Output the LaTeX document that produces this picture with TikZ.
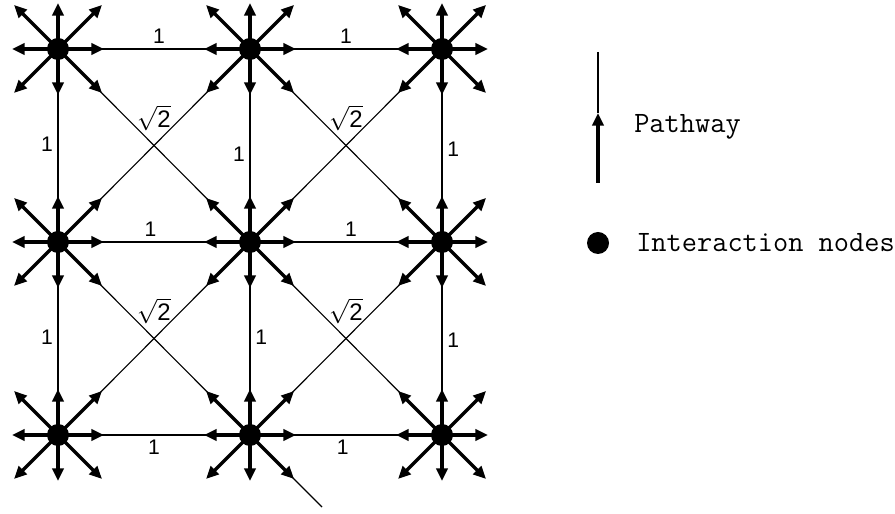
\documentclass[tikz,border=0pt]{standalone}
\usepackage{amsmath}
\usepackage{fontspec}
\setmainfont{Liberation Sans}
\usetikzlibrary{arrows.meta}
\tikzset{>={Triangle[length=9pt,width=8pt]},every node/.style={font=\fontsize{15}{18}\selectfont},
link/.style={line width=.8pt},flow/.style={line width=2.4pt,->},dot/.style={circle,fill,inner sep=0pt,minimum size=.55cm},
legend/.style={font=\ttfamily\fontsize{21}{24}\selectfont,anchor=west,inner sep=0pt},
spokes/.pic={\draw[flow] (0,0)--(1.15,0);\draw[flow] (0,0)--(-1.15,0);\draw[flow] (0,0)--(0,1.15);\draw[flow] (0,0)--(0,-1.15);
\draw[flow] (0,0)--(1.1,1.1);\draw[flow] (0,0)--(-1.1,1.1);\draw[flow] (0,0)--(1.1,-1.1);\draw[flow] (0,0)--(-1.1,-1.1);}}

\begin{document}
\begin{tikzpicture}
\useasboundingbox (0,0) rectangle (22.375,12.85);
% interaction nodes
\node[dot] (A1) at (1.45,11.625){};\node[dot] (B1) at (6.25,11.625){};\node[dot] (C1) at (11.05,11.625){};
\node[dot] (A2) at (1.45,6.8){};\node[dot] (B2) at (6.25,6.8){};\node[dot] (C2) at (11.05,6.8){};
\node[dot] (A3) at (1.45,1.975){};\node[dot] (B3) at (6.25,1.975){};\node[dot] (C3) at (11.05,1.975){};
% pathways between the nodes
\draw[link] (A1)--(B1) node[pos=.53,above]{1};\draw[link] (B1)--(C1) node[midway,above]{1};
\draw[link] (A2)--(B2) node[pos=.48,above]{1};\draw[link] (B2)--(C2) node[pos=.53,above]{1};
\draw[link] (A3)--(B3) node[midway,below]{1};\draw[link] (B3)--(C3) node[pos=.48,below]{1};
\draw[link] (A1)--(A2) node[pos=.49,left]{1};\draw[link] (A2)--(A3) node[pos=.49,left]{1};
\draw[link] (B1)--(B2) node[pos=.55,left]{1};\draw[link] (B2)--(B3) node[pos=.49,right]{1};
\draw[link] (C1)--(C2) node[pos=.52,right]{1};\draw[link] (C2)--(C3) node[pos=.51,right]{1};
\draw[link] (A1)--(B2) node[midway,above=7pt,font=\fontsize{17}{20}\selectfont]{$\sqrt{\text{2}}$};\draw[link] (B1)--(A2);
\draw[link] (B1)--(C2) node[midway,above=7pt,font=\fontsize{17}{20}\selectfont]{$\sqrt{\text{2}}$};\draw[link] (C1)--(B2);
\draw[link] (A2)--(B3) node[midway,above=7pt,font=\fontsize{17}{20}\selectfont]{$\sqrt{\text{2}}$};\draw[link] (B2)--(A3);
\draw[link] (B2)--(C3) node[midway,above=7pt,font=\fontsize{17}{20}\selectfont]{$\sqrt{\text{2}}$};\draw[link] (C2)--(B3);
\coordinate (tail) at (8.05,.175);\draw[link] (B3)--(tail);
\pic at (A1){spokes};\pic at (B1){spokes};\pic at (C1){spokes};
\pic at (A2){spokes};\pic at (B2){spokes};\pic at (C2){spokes};
\pic at (A3){spokes};\pic at (B3){spokes};\pic at (C3){spokes};
% legend
\coordinate (top) at (14.95,11.55);\coordinate (tip) at (14.95,10.025);\coordinate (foot) at (14.95,8.275);
\draw[link] (top)--(tip);\draw[flow] (foot)--(tip);\node[legend] (pw) at (15.85,9.675){Pathway};
\node[dot] (key) at (14.95,6.775){};\node[legend] (in) at (15.9,6.775){Interaction nodes};
\end{tikzpicture}
\end{document}
